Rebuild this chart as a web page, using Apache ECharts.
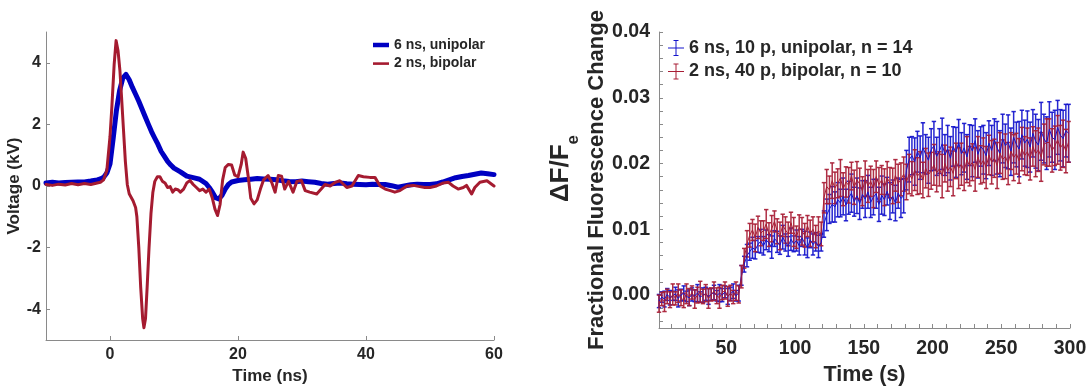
<!DOCTYPE html>
<html><head><meta charset="utf-8">
<script src="https://cdn.jsdelivr.net/npm/echarts@6/dist/echarts.min.js"></script>
<style>html,body{margin:0;padding:0;background:#fff}#c{width:1089px;height:388px}</style>
</head><body><div id="c"></div>
<script>
// ---------- Left panel: voltage waveforms ----------
const uniT = [-10,-9,-8,-7,-6,-5,-4,-3,-2,-1.5,-1,-0.5,0,0.5,1,1.5,2,2.5,3,3.5,4,4.5,5,5.5,6,6.5,7,7.5,8,8.5,9,9.5,10,11,12,13,14,15,15.5,16,16.5,17,17.5,18,18.5,19,20,21,22,23,24,25,26,27,28,29,30,31,32,33,34,35,36,37,38,39,40,41,42,43,44,45,46,47,48,49,50,51,52,53,54,55,56,57,58,59,60];
const uniV = [0.1,0.12,0.1,0.11,0.12,0.13,0.13,0.16,0.2,0.23,0.28,0.42,0.72,1.55,2.45,3.1,3.5,3.62,3.45,3.2,2.98,2.75,2.5,2.25,2.0,1.76,1.55,1.35,1.12,0.96,0.8,0.68,0.58,0.46,0.32,0.27,0.22,0.08,-0.05,-0.2,-0.38,-0.42,-0.3,-0.1,0.05,0.13,0.18,0.2,0.22,0.24,0.23,0.22,0.2,0.17,0.15,0.14,0.16,0.14,0.12,0.08,0.06,0.08,0.1,0.07,0.06,0.05,0.04,0.06,0.05,0.05,0.01,-0.04,0.0,0.04,0.06,0.05,0.05,0.07,0.13,0.2,0.27,0.31,0.34,0.38,0.42,0.4,0.37];
const bipT = [-10,-9,-8,-7,-6,-5,-4,-3,-2,-1.5,
  -1,-0.5,0,0.3,0.65,0.95,1.25,1.55,1.8,2.1,
  2.4,2.7,3,3.6,4,4.2,4.5,4.8,5.1,5.3,
  5.55,5.8,6.1,6.4,6.7,7,7.4,7.8,8.2,8.6,
  9,9.4,9.8,10.2,10.6,11,11.5,12,12.5,13,
  13.5,14,14.5,15,15.5,16,16.4,16.8,17.2,17.6,
  18,18.5,19,19.5,20,20.5,20.8,21.2,21.6,22,
  22.5,23,23.5,24,24.7,25.3,25.8,26.3,26.8,27.3,
  27.9,28.6,29.2,29.9,30.5,31.2,32.3,33,33.6,34.4,
  35.2,35.9,37,37.8,38.8,39.6,40.6,41.4,42.2,43,
  43.8,44.5,45.3,46.4,47.4,48.4,49.2,50,51,52.1,
  52.9,53.6,54.4,55.2,55.7,56.5,57,57.8,58.9,60];
const bipV = [0.05,0.02,0.06,0.03,0.08,0.04,0.08,0.05,0.1,0.12,
  0.2,0.5,1.6,2.6,3.95,4.72,4.4,3.75,2.9,1.85,
  0.8,0.05,-0.25,-0.48,-0.7,-1.0,-2.0,-3.3,-4.3,-4.6,
  -4.3,-3.3,-2.0,-0.9,-0.2,0.15,0.3,0.3,0.15,0.1,
  -0.05,-0.02,-0.2,-0.1,-0.12,-0.2,-0.1,0.1,0.18,0.05,
  -0.05,-0.15,-0.1,-0.2,-0.1,-0.4,-0.75,-0.96,-0.6,0.2,
  0.6,0.7,0.68,0.35,0.3,0.7,1.1,0.9,0.3,-0.4,
  -0.58,-0.45,-0.1,0.2,0.34,0.1,-0.2,0.34,0.32,-0.1,
  0.15,-0.2,0.15,0.18,-0.15,-0.2,-0.26,-0.1,0.05,0.0,
  0.12,0.17,-0.05,0.0,0.34,0.3,0.28,0.28,0.0,-0.1,
  -0.15,-0.2,-0.15,0.0,0.02,-0.02,-0.05,-0.05,0.0,0.1,
  0.12,0.0,-0.1,-0.05,0.02,-0.26,-0.05,0.12,0.17,0.0];
const leftXTicks = [0,20,40,60];
const leftYTicks = [-4,-2,0,2,4];

// ---------- Right panel: fractional fluorescence change ----------
const timeS = [1,3,5,7,9,11,13,15,17,19,21,23,25,27,29,31,33,35,37,39,41,43,45,47,49,51,53,55,57,59,
  61,63,65,67,69,71,73,75,77,79,81,83,85,87,89,91,93,95,97,99,101,103,105,107,109,111,113,115,117,119,
  121,123,125,127,129,131,133,135,137,139,141,143,145,147,149,151,153,155,157,159,161,163,165,167,169,171,173,175,177,179,
  181,183,185,187,189,191,193,195,197,199,201,203,205,207,209,211,213,215,217,219,221,223,225,227,229,231,233,235,237,239,
  241,243,245,247,249,251,253,255,257,259,261,263,265,267,269,271,273,275,277,279,281,283,285,287,289,291,293,295,297,299];
const uniMean = [-0.0009,-0.0003,-0.0006,0.0001,-0.0004,-0.0001,0.0002,-0.0005,0.0000,0.0003,-0.0002,-0.0004,0.0001,-0.0001,0.0003,-0.0003,0.0000,0.0002,-0.0002,0.0001,0.0004,-0.0001,0.0003,0.0000,0.0005,-0.0002,0.0002,0.0006,-0.0001,0.0003,
  0.0030,0.0047,0.0060,0.0066,0.0072,0.0069,0.0077,0.0082,0.0075,0.0084,0.0079,0.0073,0.0086,0.0081,0.0076,0.0088,0.0080,0.0074,0.0085,0.0078,0.0083,0.0075,0.0087,0.0079,0.0072,0.0084,0.0077,0.0081,0.0074,0.0080,
  0.0108,0.0122,0.0131,0.0138,0.0134,0.0145,0.0140,0.0150,0.0137,0.0148,0.0155,0.0142,0.0151,0.0139,0.0153,0.0146,0.0157,0.0141,0.0149,0.0154,0.0138,0.0152,0.0145,0.0158,0.0143,0.0150,0.0140,0.0155,0.0147,0.0151,
  0.0190,0.0206,0.0212,0.0203,0.0218,0.0209,0.0224,0.0214,0.0205,0.0221,0.0227,0.0211,0.0219,0.0230,0.0213,0.0222,0.0208,0.0226,0.0217,0.0232,0.0215,0.0224,0.0210,0.0228,0.0219,0.0235,0.0214,0.0226,0.0221,0.0212,
  0.0231,0.0220,0.0236,0.0224,0.0215,0.0238,0.0227,0.0233,0.0218,0.0240,0.0229,0.0222,0.0244,0.0231,0.0237,0.0225,0.0246,0.0234,0.0228,0.0249,0.0238,0.0231,0.0252,0.0240,0.0236,0.0255,0.0243,0.0238,0.0250,0.0246];
const uniErr = [0.0010,0.0008,0.0012,0.0009,0.0011,0.0007,0.0010,0.0013,0.0009,0.0011,0.0008,0.0012,0.0010,0.0009,0.0013,0.0008,0.0011,0.0010,0.0012,0.0009,0.0011,0.0008,0.0013,0.0010,0.0009,0.0012,0.0010,0.0011,0.0008,0.0012,
  0.0015,0.0012,0.0017,0.0013,0.0016,0.0014,0.0012,0.0018,0.0014,0.0015,0.0013,0.0017,0.0012,0.0016,0.0014,0.0018,0.0013,0.0015,0.0017,0.0012,0.0016,0.0014,0.0013,0.0018,0.0015,0.0012,0.0016,0.0014,0.0017,0.0013,
  0.0020,0.0024,0.0022,0.0027,0.0023,0.0026,0.0021,0.0028,0.0024,0.0025,0.0029,0.0022,0.0027,0.0024,0.0021,0.0028,0.0025,0.0023,0.0027,0.0022,0.0026,0.0029,0.0024,0.0021,0.0028,0.0025,0.0027,0.0023,0.0029,0.0026,
  0.0030,0.0034,0.0029,0.0036,0.0031,0.0033,0.0038,0.0030,0.0035,0.0032,0.0037,0.0029,0.0034,0.0039,0.0031,0.0036,0.0033,0.0030,0.0038,0.0035,0.0032,0.0037,0.0034,0.0031,0.0039,0.0033,0.0036,0.0030,0.0037,0.0035,
  0.0034,0.0038,0.0032,0.0040,0.0035,0.0037,0.0033,0.0041,0.0036,0.0039,0.0034,0.0042,0.0037,0.0035,0.0043,0.0038,0.0036,0.0041,0.0039,0.0044,0.0037,0.0040,0.0042,0.0038,0.0045,0.0041,0.0039,0.0043,0.0040,0.0044];
const bipMean = [-0.0013,-0.0006,-0.0010,-0.0002,-0.0007,0.0001,-0.0005,0.0003,-0.0004,-0.0008,0.0002,-0.0003,0.0004,-0.0006,0.0000,0.0005,-0.0002,0.0003,-0.0005,0.0001,0.0006,-0.0001,-0.0004,0.0004,0.0007,-0.0002,0.0003,-0.0003,0.0006,0.0001,
  0.0028,0.0056,0.0078,0.0091,0.0099,0.0087,0.0103,0.0094,0.0098,0.0108,0.0092,0.0101,0.0112,0.0097,0.0090,0.0106,0.0099,0.0093,0.0110,0.0096,0.0088,0.0103,0.0097,0.0091,0.0105,0.0094,0.0100,0.0089,0.0098,0.0093,
  0.0148,0.0165,0.0160,0.0174,0.0163,0.0170,0.0178,0.0161,0.0172,0.0167,0.0181,0.0164,0.0175,0.0169,0.0158,0.0177,0.0166,0.0173,0.0162,0.0180,0.0168,0.0175,0.0164,0.0178,0.0171,0.0166,0.0182,0.0170,0.0176,0.0184,
  0.0172,0.0184,0.0177,0.0190,0.0181,0.0186,0.0175,0.0193,0.0183,0.0189,0.0198,0.0186,0.0192,0.0181,0.0200,0.0189,0.0195,0.0185,0.0204,0.0193,0.0199,0.0188,0.0206,0.0196,0.0202,0.0191,0.0210,0.0198,0.0205,0.0194,
  0.0213,0.0202,0.0208,0.0197,0.0216,0.0206,0.0211,0.0200,0.0219,0.0209,0.0215,0.0204,0.0222,0.0212,0.0218,0.0207,0.0226,0.0215,0.0221,0.0210,0.0229,0.0232,0.0232,0.0220,0.0227,0.0236,0.0224,0.0230,0.0219,0.0233];
const bipErr = [0.0013,0.0010,0.0015,0.0011,0.0012,0.0016,0.0010,0.0014,0.0012,0.0011,0.0015,0.0013,0.0010,0.0014,0.0012,0.0016,0.0011,0.0013,0.0015,0.0010,0.0014,0.0012,0.0016,0.0011,0.0013,0.0015,0.0012,0.0010,0.0014,0.0013,
  0.0017,0.0015,0.0020,0.0018,0.0016,0.0021,0.0017,0.0019,0.0015,0.0022,0.0018,0.0020,0.0016,0.0019,0.0021,0.0017,0.0020,0.0018,0.0016,0.0022,0.0017,0.0019,0.0021,0.0018,0.0016,0.0020,0.0019,0.0017,0.0021,0.0018,
  0.0023,0.0026,0.0021,0.0027,0.0024,0.0022,0.0028,0.0025,0.0023,0.0027,0.0021,0.0026,0.0028,0.0024,0.0022,0.0027,0.0025,0.0023,0.0029,0.0024,0.0026,0.0022,0.0028,0.0025,0.0023,0.0027,0.0024,0.0029,0.0025,0.0026,
  0.0027,0.0030,0.0026,0.0031,0.0028,0.0032,0.0027,0.0030,0.0033,0.0028,0.0031,0.0029,0.0026,0.0033,0.0028,0.0031,0.0030,0.0034,0.0027,0.0031,0.0032,0.0029,0.0035,0.0030,0.0028,0.0033,0.0031,0.0029,0.0034,0.0032,
  0.0030,0.0033,0.0029,0.0035,0.0031,0.0030,0.0034,0.0032,0.0028,0.0035,0.0031,0.0034,0.0033,0.0029,0.0036,0.0032,0.0030,0.0035,0.0033,0.0037,0.0031,0.0036,0.0036,0.0033,0.0030,0.0037,0.0034,0.0036,0.0033,0.0031];
const rightXTicks = [10,20,30,40,50,60,70,80,90,100,110,120,130,140,150,160,170,180,190,200,210,220,230,240,250,260,270,280,290,300];
const rightXLabels = [50,100,150,200,250,300];
const rightYTicks = [-0.004,-0.002,0,0.002,0.004,0.006,0.008,0.01,0.012,0.014,0.016,0.018,0.02,0.022,0.024,0.026,0.028,0.03,0.032,0.034,0.036,0.038,0.04];
const rightYLabels = [0,0.01,0.02,0.03,0.04];

const NAME_U = '6 ns, unipolar', NAME_B = '2 ns, bipolar';
const NAME_U2 = '6 ns, 10 p, unipolar, n = 14', NAME_B2 = '2 ns, 40 p, bipolar, n = 10';

const FONT = '"Liberation Sans", Arial, Helvetica, sans-serif';
const TXT = '#262626', AX = '#8a8a8a';
const BLUE = '#0000c2', RED = '#a51b30';
const BLUE_E = '#1414cc', RED_E = '#a81d35';

const zip = (a, b) => a.map((v, i) => [v, b[i]]);
const zip3 = (a, b, c) => a.map((v, i) => [v, b[i], c[i]]);

function errRender(color) {
  return function (params, api) {
    const x = api.value(0), m = api.value(1), e = api.value(2);
    const top = api.coord([x, m + e]);
    const bot = api.coord([x, m - e]);
    const hw = 2.2;
    const st = { stroke: color, lineWidth: 1.5, opacity: 0.92 };
    return { type: 'group', children: [
      { type: 'line', shape: { x1: top[0], y1: top[1], x2: bot[0], y2: bot[1] }, style: st },
      { type: 'line', shape: { x1: top[0] - hw, y1: top[1], x2: top[0] + hw, y2: top[1] }, style: st },
      { type: 'line', shape: { x1: bot[0] - hw, y1: bot[1], x2: bot[0] + hw, y2: bot[1] }, style: st }
    ]};
  };
}

const bold = (size) => ({ fontSize: size, fontWeight: 'bold', color: TXT, fontFamily: FONT });
const errIcon = 'path://M0,7.5h16v1h-16z M7.5,0h1v16h-1z M5.5,0h5v1h-5z M5.5,15h5v1h-5z';

const option = {
  animation: false,
  backgroundColor: '#fff',
  textStyle: { fontFamily: FONT },
  grid: [
    { left: 46, right: 595, top: 32, bottom: 48, outerBoundsMode: 'none' },
    { left: 659, right: 19, top: 32, bottom: 60, outerBoundsMode: 'none' }
  ],
  legend: [
    { left: 373, top: 38, padding: 0, orient: 'vertical', itemWidth: 16, itemHeight: 14, itemGap: 4.6,
      textStyle: Object.assign(bold(14), { lineHeight: 14 }),
      data: [
        { name: NAME_U, icon: 'path://M0,0h16v4.5h-16z', itemStyle: { color: BLUE } },
        { name: NAME_B, icon: 'path://M0,0h16v2.6h-16z', itemStyle: { color: RED } }
      ] },
    { left: 668, top: 39, padding: 0, orient: 'vertical', itemWidth: 16, itemHeight: 17, itemGap: 5.4,
      textStyle: Object.assign(bold(18), { lineHeight: 18 }),
      data: [
        { name: NAME_U2, icon: errIcon, itemStyle: { color: BLUE_E } },
        { name: NAME_B2, icon: errIcon, itemStyle: { color: RED_E } }
      ] }
  ],
  xAxis: [
    { type: 'value', gridIndex: 0, min: -10, max: 60,
      name: 'Time (ns)', nameLocation: 'middle', nameGap: 26, nameTextStyle: bold(17),
      axisLine: { onZero: false, lineStyle: { color: AX, width: 1 } },
      axisTick: { inside: true, length: 4, customValues: leftXTicks, lineStyle: { color: AX } },
      axisLabel: Object.assign(bold(16), { customValues: leftXTicks, margin: 7 }),
      splitLine: { show: false } },
    { type: 'value', gridIndex: 1, min: 1, max: 300,
      name: 'Time (s)', nameLocation: 'middle', nameGap: 32, nameTextStyle: bold(21.5),
      axisLine: { onZero: false, lineStyle: { color: AX, width: 1 } },
      axisTick: { inside: true, length: 4, customValues: rightXTicks, lineStyle: { color: AX } },
      axisLabel: Object.assign(bold(19.5), { customValues: rightXLabels, margin: 11 }),
      splitLine: { show: false } }
  ],
  yAxis: [
    { type: 'value', gridIndex: 0, min: -5, max: 5,
      name: 'Voltage (kV)', nameLocation: 'middle', nameGap: 21, nameTextStyle: bold(17),
      axisLine: { onZero: false, lineStyle: { color: AX, width: 1 } },
      axisTick: { inside: true, length: 4, customValues: leftYTicks, lineStyle: { color: AX } },
      axisLabel: Object.assign(bold(16), { customValues: leftYTicks, margin: 5 }),
      splitLine: { show: false } },
    { type: 'value', gridIndex: 1, min: -0.005, max: 0.04,
      name: '{d|ΔF/F}{e|e}\n{f|Fractional Fluorescence Change}',
      nameLocation: 'middle', nameGap: 47,
      nameTextStyle: { color: TXT, fontFamily: FONT, fontWeight: 'bold', align: 'center',
        rich: {
          d: { fontSize: 26, fontWeight: 'bold', color: TXT, fontFamily: FONT, lineHeight: 46, padding: [0, 0, 0, 23] },
          e: { fontSize: 17, fontWeight: 'bold', color: TXT, fontFamily: FONT, padding: [25, 0, 0, 0] },
          f: { fontSize: 22, fontWeight: 'bold', color: TXT, fontFamily: FONT, lineHeight: 27 }
        } },
      axisLine: { onZero: false, lineStyle: { color: AX, width: 1 } },
      axisTick: { inside: true, length: 4, customValues: rightYTicks, lineStyle: { color: AX } },
      axisLabel: Object.assign(bold(19.5), { customValues: rightYLabels, margin: 9,
        formatter: (v) => Number(v).toFixed(2) }),
      splitLine: { show: false } }
  ],
  series: [
    { name: NAME_U, type: 'line', xAxisIndex: 0, yAxisIndex: 0, data: zip(uniT, uniV),
      showSymbol: false, symbol: 'none', lineStyle: { color: BLUE, width: 5, join: 'round', cap: 'round' },
      itemStyle: { color: BLUE } },
    { name: NAME_B, type: 'line', xAxisIndex: 0, yAxisIndex: 0, data: zip(bipT, bipV),
      showSymbol: false, symbol: 'none', lineStyle: { color: RED, width: 3, join: 'round', cap: 'round' },
      itemStyle: { color: RED } },
    { name: NAME_U2, type: 'custom', xAxisIndex: 1, yAxisIndex: 1, renderItem: errRender(BLUE_E),
      data: zip3(timeS, uniMean, uniErr), encode: { x: 0, y: 1 }, itemStyle: { color: BLUE_E } },
    { name: NAME_U2, type: 'line', xAxisIndex: 1, yAxisIndex: 1, data: zip(timeS, uniMean),
      showSymbol: false, symbol: 'none', lineStyle: { color: BLUE_E, width: 1 }, itemStyle: { color: BLUE_E } },
    { name: NAME_B2, type: 'custom', xAxisIndex: 1, yAxisIndex: 1, renderItem: errRender(RED_E),
      data: zip3(timeS, bipMean, bipErr), encode: { x: 0, y: 1 }, itemStyle: { color: RED_E } },
    { name: NAME_B2, type: 'line', xAxisIndex: 1, yAxisIndex: 1, data: zip(timeS, bipMean),
      showSymbol: false, symbol: 'none', lineStyle: { color: RED_E, width: 1 }, itemStyle: { color: RED_E } }
  ]
};

const chart = echarts.init(document.getElementById('c'), null, { renderer: 'canvas', width: 1089, height: 388 });
chart.setOption(option);
</script>
</body></html>
